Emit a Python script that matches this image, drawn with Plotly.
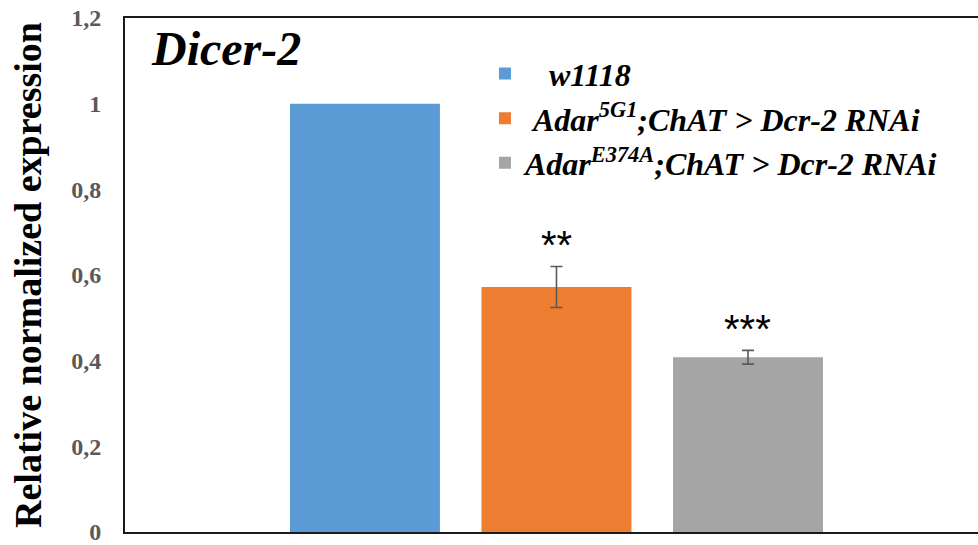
import plotly.graph_objects as go

# Relative normalized Dicer-2 expression per genotype
genotypes = [
    "\u00a0\u00a0\u00a0<b><i>w1118</i></b>",
    "\u00a0<b><i>Adar<sup>5G1</sup>;ChAT > Dcr-2 RNAi</i></b>",
    "<b><i>Adar<sup>E374A</sup>;ChAT > Dcr-2 RNAi</i></b>",
]
categories = ["w1118", "Adar5G1", "AdarE374A"]
expression = [1.0, 0.572, 0.408]
errors = [None, 0.048, 0.016]
significance = ["", "**", "***"]
colors = ["#5B9BD5", "#ED7D31", "#A5A5A5"]

tick_values = [0, 0.2, 0.4, 0.6, 0.8, 1.0, 1.2]
tick_labels = ["0", "0,2", "0,4", "0,6", "0,8", "1", "1,2"]

SERIF = "Times New Roman, Liberation Serif, DejaVu Serif, serif"
SANS = "Arial, Liberation Sans, DejaVu Sans, sans-serif"

fig = go.Figure()
for name, cat, val, err, col in zip(genotypes, categories, expression, errors, colors):
    fig.add_trace(go.Bar(
        name=name,
        x=[cat],
        y=[val],
        marker=dict(color=col, line=dict(width=0)),
        error_y=dict(type="data", array=[err], visible=err is not None,
                     color="#595959", thickness=1.6, width=6),
    ))

# Significance stars above the error bars
for cat, val, err, sig in zip(categories, expression, errors, significance):
    if sig:
        fig.add_annotation(
            x=cat, y=val + (err or 0), xref="x", yref="y",
            text=sig, showarrow=False, yanchor="bottom", yshift=-3,
            font=dict(family=SANS, size=40, color="#000000"),
        )

fig.add_annotation(
    x=0.028, y=0.94, xref="paper", yref="paper", xanchor="left", yanchor="middle",
    text="<b><i>Dicer-2</i></b>", showarrow=False,
    font=dict(family=SERIF, size=48, color="#000000"),
)

fig.update_layout(
    width=978, height=545,
    margin=dict(l=125, r=0, t=18, b=9),
    paper_bgcolor="white", plot_bgcolor="white",
    barmode="overlay",
    bargap=0.217,
    showlegend=True,
    legend=dict(
        x=0.422, y=0.945, xanchor="left", yanchor="top",
        font=dict(family=SERIF, size=32, color="#000000"),
        bgcolor="rgba(0,0,0,0)", tracegroupgap=3, itemwidth=30,
    ),
    font=dict(family=SERIF),
)

fig.update_xaxes(
    type="category", categoryorder="array", categoryarray=categories,
    range=[-1.253, 3.201], showticklabels=False, ticks="",
    showline=True, linecolor="#1a1a1a", linewidth=2, mirror=True,
    showgrid=False, zeroline=False, fixedrange=True,
)
fig.update_yaxes(
    range=[0, 1.2], tickvals=tick_values,
    ticktext=[f"<b>{t}</b>" for t in tick_labels],
    tickfont=dict(family=SERIF, size=24, color="#595959"),
    ticks="", ticklabelstandoff=17, ticklabeloverflow="allow",
    showline=True, linecolor="#1a1a1a", linewidth=2,
    showgrid=False, zeroline=False,
    title=dict(text="<b>Relative normalized expression</b>", standoff=18,
               font=dict(family=SERIF, size=38, color="#000000")),
)

fig.write_html("out.html")
